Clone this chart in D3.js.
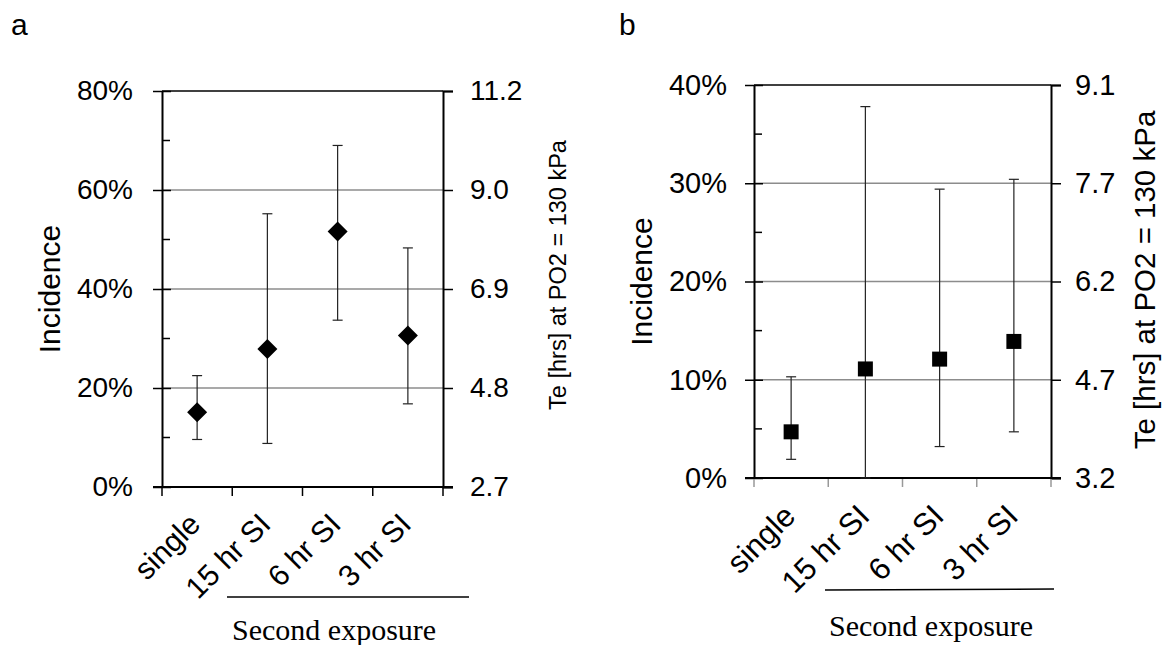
<!DOCTYPE html>
<html>
<head>
<meta charset="utf-8">
<script src="https://cdn.jsdelivr.net/npm/d3@7"></script>
<style>
  html, body { margin: 0; padding: 0; background: #fff; }
  svg { display: block; }
</style>
</head>
<body>
<svg id="chart" width="1163" height="645"></svg>
<script>
// ---- data ----
const categories = ["single", "15 hr SI", "6 hr SI", "3 hr SI"];

const incidenceA = [0.151, 0.279, 0.516, 0.306];
const lowA       = [0.096, 0.088, 0.337, 0.168];
const highA      = [0.225, 0.552, 0.690, 0.483];
const leftTicksA = [0, 0.2, 0.4, 0.6, 0.8];
const teLabelsA  = ["2.7", "4.8", "6.9", "9.0", "11.2"];

const incidenceB = [0.047, 0.111, 0.121, 0.139];
const lowB       = [0.019, 0.000, 0.032, 0.047];
const highB      = [0.103, 0.378, 0.294, 0.304];
const leftTicksB = [0, 0.1, 0.2, 0.3, 0.4];
const teLabelsB  = ["3.2", "4.7", "6.2", "7.7", "9.1"];

const SANS = '"Liberation Sans", Arial, sans-serif';
const SERIF = '"Liberation Serif", "Times New Roman", serif';
const svg = d3.select("#chart");

function panel(cfg) {
  const g = svg.append("g").style("font-family", SANS);
  const x = d3.scaleBand().domain(categories).range([cfg.x0, cfg.x1]).paddingInner(0).paddingOuter(0);
  const y = d3.scaleLinear().domain([0, cfg.ymax]).range([cfg.y1, cfg.y0]);

  // gridlines
  g.append("g").selectAll("line").data(cfg.ticks.slice(1, -1)).join("line")
    .attr("x1", cfg.x0).attr("x2", cfg.x1)
    .attr("y1", d => y(d)).attr("y2", d => y(d))
    .attr("stroke", "#8c8c8c").attr("stroke-width", 1.5);

  // top border
  g.append("line").attr("x1", cfg.x0).attr("x2", cfg.x1)
    .attr("y1", y(cfg.ymax)).attr("y2", y(cfg.ymax))
    .attr("stroke", "#000").attr("stroke-width", 1.5);

  // minor ticks (inside, left)
  const minor = d3.range(cfg.ticks.length - 1).map(i => (cfg.ticks[i] + cfg.ticks[i + 1]) / 2);
  g.append("g").selectAll("line").data(minor).join("line")
    .attr("x1", cfg.x0).attr("x2", cfg.x0 + 8)
    .attr("y1", d => y(d)).attr("y2", d => y(d))
    .attr("stroke", "#000").attr("stroke-width", 1.5);

  // left axis
  const la = g.append("g").attr("transform", `translate(${cfg.x0},0)`)
    .call(d3.axisLeft(y).tickValues(cfg.ticks).tickFormat(d3.format(".0%")).tickSize(0).tickPadding(cfg.lpad));
  la.select(".domain").attr("stroke", "#000").attr("stroke-width", 2);
  la.selectAll("text").attr("font-size", cfg.fs).style("font-family", SANS).attr("fill", "#000");
  la.selectAll(".tick").append("line")
    .attr("x1", -9).attr("x2", 9).attr("stroke", "#000").attr("stroke-width", 1.5);

  // right axis
  const ra = g.append("g").attr("transform", `translate(${cfg.x1},0)`)
    .call(d3.axisRight(y).tickValues(cfg.ticks).tickFormat((d, i) => cfg.te[i]).tickSize(10).tickPadding(cfg.rpad - 10));
  ra.select(".domain").attr("stroke", "#000").attr("stroke-width", 2);
  ra.selectAll(".tick line").attr("stroke", "#000").attr("stroke-width", 1.5);
  ra.selectAll("text").attr("font-size", cfg.fs).style("font-family", SANS).attr("fill", "#000");

  // bottom axis
  const edges = categories.map(c => x(c)).concat([cfg.x1]);
  g.append("g").selectAll("line").data(edges).join("line")
    .attr("x1", d => d).attr("x2", d => d)
    .attr("y1", cfg.y1).attr("y2", cfg.y1 + 9)
    .attr("stroke", cfg.xtickColor).attr("stroke-width", 1.5);
  g.append("line").attr("x1", cfg.x0 - 9).attr("x2", cfg.x1 + 10)
    .attr("y1", cfg.y1).attr("y2", cfg.y1)
    .attr("stroke", "#000").attr("stroke-width", 2);

  // category labels
  g.append("g").selectAll("text").data(categories).join("text")
    .attr("transform", d => `translate(${x(d) + x.bandwidth() / 2 + cfg.catDx},${cfg.catY}) rotate(-45)`)
    .attr("text-anchor", "end")
    .attr("font-size", cfg.catFs)
    .attr("fill", "#000")
    .text(d => d);

  // error bars
  const cx = i => x(categories[i]) + x.bandwidth() / 2;
  const eb = g.append("g").attr("stroke", "#222").attr("stroke-width", 1.2);
  eb.selectAll("line.v").data(cfg.inc).join("line").attr("class", "v")
    .attr("x1", (d, i) => cx(i)).attr("x2", (d, i) => cx(i))
    .attr("y1", (d, i) => y(cfg.low[i])).attr("y2", (d, i) => y(cfg.high[i]));
  eb.selectAll("line.t").data(cfg.high).join("line").attr("class", "t")
    .attr("x1", (d, i) => cx(i) - 5).attr("x2", (d, i) => cx(i) + 5)
    .attr("y1", d => y(d)).attr("y2", d => y(d));
  eb.selectAll("line.b").data(cfg.low).join("line").attr("class", "b")
    .attr("x1", (d, i) => cx(i) - 5).attr("x2", (d, i) => cx(i) + 5)
    .attr("y1", d => y(d)).attr("y2", d => y(d));

  // markers
  const sym = d3.symbol().type(d3.symbolSquare).size(cfg.msize);
  g.append("g").selectAll("path").data(cfg.inc).join("path")
    .attr("transform", (d, i) => `translate(${cx(i)},${y(d)}) rotate(${cfg.diamond ? 45 : 0})`)
    .attr("d", sym).attr("fill", "#000");

  // axis titles
  g.append("text")
    .attr("transform", `translate(${cfg.incX},${(cfg.y0 + cfg.y1) / 2}) rotate(-90)`)
    .attr("text-anchor", "middle").attr("font-size", cfg.titleFs).attr("fill", "#000").text("Incidence");
  g.append("text")
    .attr("transform", `translate(${cfg.teX},${cfg.teY}) rotate(-90)`)
    .attr("text-anchor", "middle").attr("font-size", cfg.teFs).attr("fill", "#000").text("Te [hrs] at PO2 = 130 kPa");

  // second exposure bracket
  g.append("line").attr("x1", cfg.brX0).attr("x2", cfg.brX1)
    .attr("y1", cfg.brY).attr("y2", cfg.brY + cfg.brTilt)
    .attr("stroke", "#000").attr("stroke-width", 1.5);
  g.append("text")
    .attr("x", cfg.seX).attr("y", cfg.seY)
    .style("font-family", SERIF)
    .attr("font-size", cfg.seFs).attr("fill", "#000").text("Second exposure");

  // panel letter
  g.append("text").attr("x", cfg.letterX).attr("y", cfg.letterY)
    .attr("font-size", 30).attr("fill", "#000").text(cfg.letter);
}

panel({
  letter: "a", letterX: 11, letterY: 35,
  x0: 162, x1: 443, y0: 91, y1: 487, ymax: 0.8,
  ticks: leftTicksA, te: teLabelsA,
  inc: incidenceA, low: lowA, high: highA,
  fs: 28, lpad: 29, rpad: 27,
  xtickColor: "#000",
  catDx: 5, catY: 526, catFs: 30,
  diamond: true, msize: 200,
  incX: 60, titleFs: 30,
  teX: 566, teY: 275, teFs: 23.5,
  brX0: 227, brX1: 469, brY: 597, brTilt: 0,
  seX: 232, seY: 640, seFs: 30
});

panel({
  letter: "b", letterX: 619, letterY: 35,
  x0: 754, x1: 1051, y0: 85, y1: 478, ymax: 0.4,
  ticks: leftTicksB, te: teLabelsB,
  inc: incidenceB, low: lowB, high: highB,
  fs: 29, lpad: 27, rpad: 24,
  xtickColor: "#999",
  catDx: 6, catY: 518, catFs: 31,
  diamond: false, msize: 225,
  incX: 652, titleFs: 30,
  teX: 1155, teY: 280, teFs: 29.5,
  brX0: 825, brX1: 1054, brY: 590, brTilt: -1,
  seX: 829, seY: 636, seFs: 30
});
</script>
</body>
</html>
